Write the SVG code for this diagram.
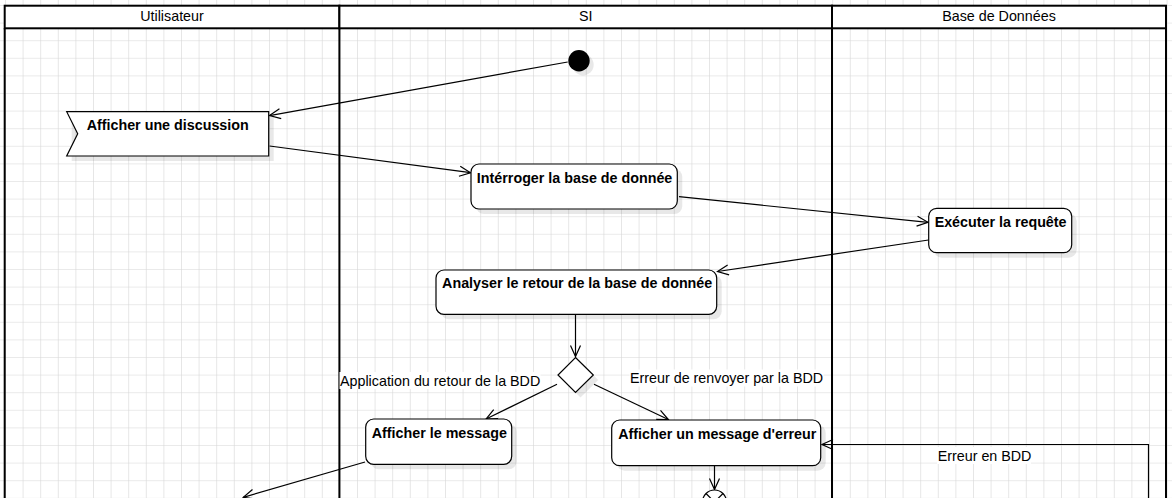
<svg xmlns="http://www.w3.org/2000/svg" width="1172" height="498" viewBox="0 0 1172 498">
<style>
text{font-family:"Liberation Sans",Arial,sans-serif;font-size:14.3px;fill:#000}
.b{font-weight:bold}
.lane{fill:none;stroke:#000;stroke-width:2}
.hdr{fill:#fff;stroke:#000;stroke-width:2}
.node{fill:#fff;stroke:#000;stroke-width:1.2}
.sh{fill:#000;fill-opacity:0.09;stroke:none}
.edge{fill:none;stroke:#000;stroke-width:1.2}
.lbg{fill:#fff}
</style>
<defs>
<pattern id="grid" patternUnits="userSpaceOnUse" x="5" y="5" width="17.6" height="17.6">
<path d="M0,0 H17.6 M0,0 V17.6" fill="none" stroke="#d6d6d6" stroke-width="1.2"/>
</pattern>
<marker id="arr" markerUnits="userSpaceOnUse" markerWidth="14" markerHeight="12" refX="11" refY="5" orient="auto" overflow="visible">
<path d="M0,0 L11,5 L0,10" fill="none" stroke="#000" stroke-width="1.2"/>
</marker>
</defs>
<rect width="1172" height="498" fill="#fff"/>
<rect width="1172" height="498" fill="url(#grid)"/>
<g id="lanes">
<rect class="hdr" x="4.7" y="5.7" width="334.7" height="22.6"/>
<rect class="hdr" x="339.4" y="5.7" width="492.6" height="22.6"/>
<rect class="hdr" x="832" y="5.7" width="334" height="22.6"/>
<path class="lane" d="M4.7,28.3 V500 M339.4,28.3 V500 M832,28.3 V500 M1166,28.3 V500"/>
<text x="172" y="21" text-anchor="middle">Utilisateur</text>
<text x="585.7" y="21" text-anchor="middle">SI</text>
<text x="999" y="21" text-anchor="middle">Base de Données</text>
</g>
<g id="connectors">
<path class="edge" d="M567.7,62 L269.5,115.6" marker-end="url(#arr)"/>
<path class="edge" d="M269.5,146 L470.5,172.7" marker-end="url(#arr)"/>
<path class="edge" d="M679,196.7 L928,222.3" marker-end="url(#arr)"/>
<path class="edge" d="M928.5,240 L717.5,271.5" marker-end="url(#arr)"/>
<path class="edge" d="M575.5,314.5 L575.5,356.5" marker-end="url(#arr)"/>
<path class="edge" d="M557,384.3 L486,419" marker-end="url(#arr)"/>
<path class="edge" d="M594,384.3 L668.3,419.5" marker-end="url(#arr)"/>
<path class="edge" d="M714.5,466 L714.5,489.5" marker-end="url(#arr)"/>
<path class="edge" d="M365,462 L243.3,497.3" marker-end="url(#arr)"/>
<path class="edge" d="M1148.5,500 V444.5 H822" marker-end="url(#arr)"/>
<rect class="lbg" x="339.5" y="372" width="201" height="17"/>
<text x="340" y="385.5">Application du retour de la BDD</text>
<rect class="lbg" x="629.5" y="369.5" width="194" height="17"/>
<text x="630" y="383.3">Erreur de renvoyer par la BDD</text>
<rect class="lbg" x="937" y="447" width="94" height="17"/>
<text x="937.7" y="461">Erreur en BDD</text>
</g>
<g id="start">
<circle class="sh" cx="583" cy="64.7" r="10.7"/>
<circle cx="579" cy="60.7" r="10.7" fill="#000"/>
</g>
<g id="afficher-discussion">
<rect class="sh" x="71.7" y="116.7" width="202" height="44.3"/>
<path class="node" d="M66.7,111.7 H268.7 V156 H66.7 L77.7,133.8 Z"/>
<text class="b" x="167.7" y="130" text-anchor="middle">Afficher une discussion</text>
</g>
<g id="interroger">
<rect class="sh" x="476" y="169" width="206.3" height="45" rx="8"/>
<rect class="node" x="471" y="164" width="206.3" height="45" rx="8"/>
<text class="b" x="574.6" y="182.7" text-anchor="middle">Intérroger la base de donnée</text>
</g>
<g id="executer">
<rect class="sh" x="933.7" y="213.3" width="143" height="44.4" rx="8"/>
<rect class="node" x="928.7" y="208.3" width="143" height="44.4" rx="8"/>
<text class="b" x="1000.6" y="226.7" text-anchor="middle">Exécuter la requête</text>
</g>
<g id="analyser">
<rect class="sh" x="441" y="275" width="280.7" height="44.3" rx="8"/>
<rect class="node" x="436" y="270" width="280.7" height="44.3" rx="8"/>
<text class="b" x="577.2" y="288.3" text-anchor="middle">Analyser le retour de la base de donnée</text>
</g>
<g id="decision">
<path class="sh" d="M580.5,362.5 L598.3,380 L580.5,397.5 L563,380 Z"/>
<path class="node" d="M575.5,357.5 L593.3,375 L575.5,392.5 L558,375 Z"/>
</g>
<g id="afficher-message">
<rect class="sh" x="370.7" y="424" width="146" height="45.3" rx="8"/>
<rect class="node" x="365.7" y="419" width="146" height="45.3" rx="8"/>
<text class="b" x="439.3" y="438.3" text-anchor="middle">Afficher le message</text>
</g>
<g id="afficher-erreur">
<rect class="sh" x="616.7" y="425" width="209" height="45.7" rx="8"/>
<rect class="node" x="611.7" y="420" width="209" height="45.7" rx="8"/>
<text class="b" x="717.3" y="439" text-anchor="middle">Afficher un message d'erreur</text>
</g>
<g id="flow-final">
<circle class="node" cx="714.5" cy="502" r="12"/>
<path class="edge" d="M706,493.5 L723,510.5 M723,493.5 L706,510.5"/>
</g>
</svg>
